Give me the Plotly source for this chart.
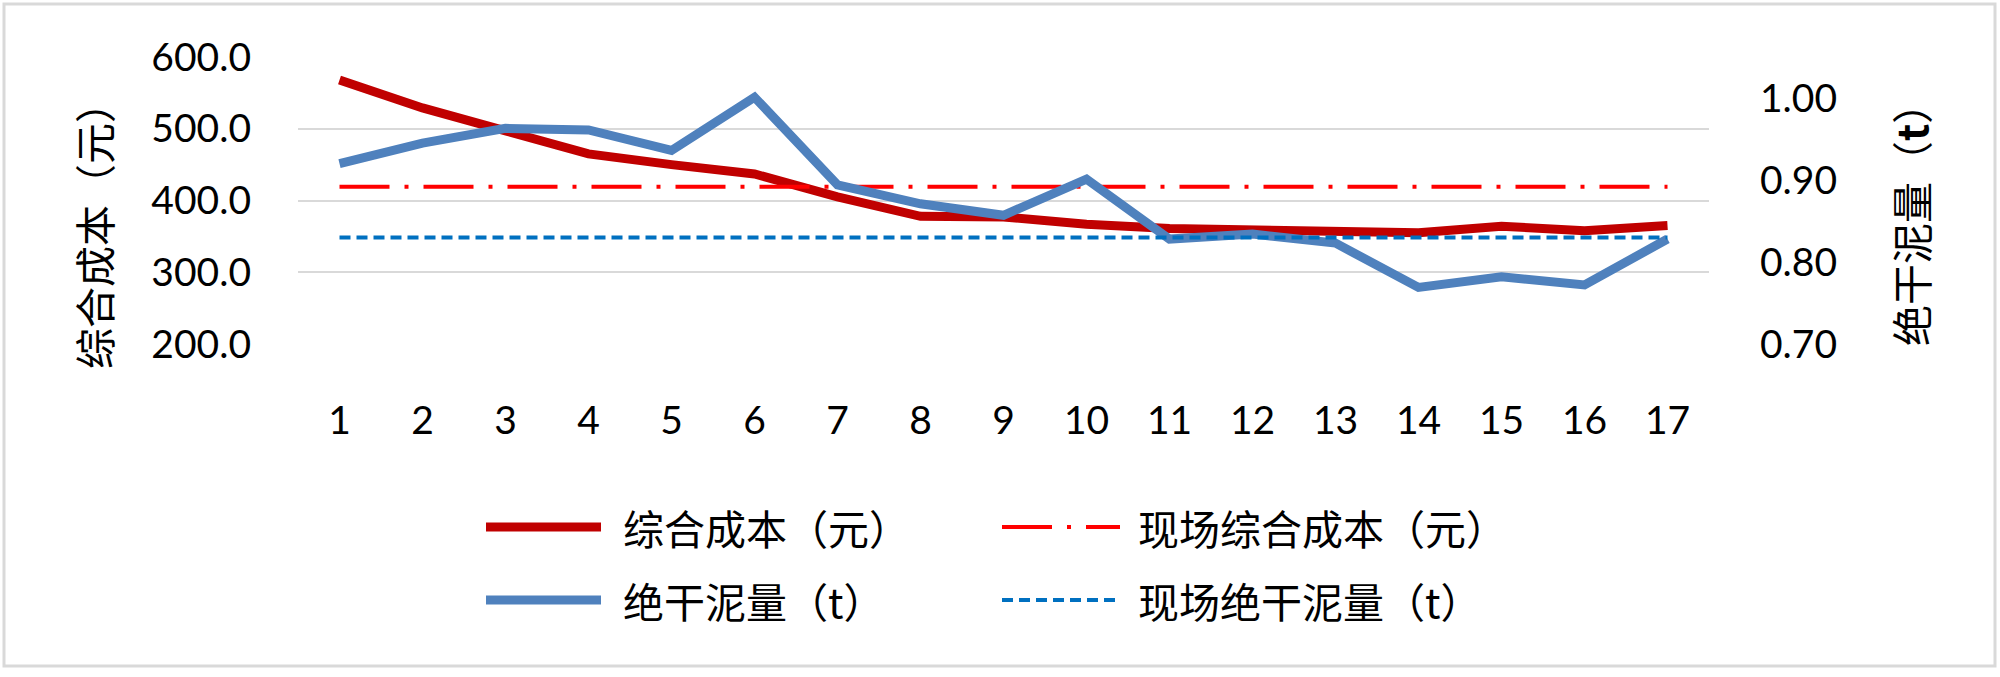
import plotly.graph_objects as go

# Batch numbers 1..17
categories = list(range(1, 18))

# 综合成本 (元) per batch, left axis
cost_yuan = [568, 529, 497, 465, 450, 437, 405, 378, 377, 367,
             361, 360, 359, 355, 364, 358, 365]

# 绝干泥量 (t) per batch, right axis
dry_sludge_t = [0.920, 0.945, 0.963, 0.961, 0.936, 1.001, 0.894, 0.871, 0.857, 0.901,
                0.828, 0.834, 0.823, 0.769, 0.782, 0.772, 0.828]

# On-site reference levels
site_cost_yuan = 419
site_dry_sludge_t = 0.830

names = ["综合成本（元）", "现场综合成本（元）", "绝干泥量（t）", "现场绝干泥量（t）"]

left_ticks = [200, 300, 400, 500, 600]
right_ticks = [0.70, 0.80, 0.90, 1.00]

W, H = 2000, 677
PL, PR, PT, PB = 298, 291, 57, 333   # plot area margins in px
PW, PH = W - PL - PR, H - PT - PB


def px_x(x):
    return (x - PL) / PW


def px_y(y):
    return (H - PB - y) / PH


RED = "#C00000"
RED_DASH = "#FF0000"
BLUE = "#4F81BD"
BLUE_DASH = "#0070C0"
CJK = "Noto Sans CJK SC"
NUM = "Lato"
CJK_SIZE = 41
NUM_SIZE = 39

styles = [
    dict(color=RED, width=9),
    dict(color=RED_DASH, width=4, dash="50px,15px,4px,15px"),
    dict(color=BLUE, width=9),
    dict(color=BLUE_DASH, width=4, dash="11px,6px"),
]

fig = go.Figure()
fig.add_trace(go.Scatter(x=categories, y=cost_yuan, mode="lines",
                         name=names[0], line=styles[0], yaxis="y"))
fig.add_trace(go.Scatter(x=[categories[0], categories[-1]],
                         y=[site_cost_yuan, site_cost_yuan], mode="lines",
                         name=names[1], line=styles[1], yaxis="y"))
fig.add_trace(go.Scatter(x=categories, y=dry_sludge_t, mode="lines",
                         name=names[2], line=styles[2], yaxis="y2"))
fig.add_trace(go.Scatter(x=[categories[0], categories[-1]],
                         y=[site_dry_sludge_t, site_dry_sludge_t], mode="lines",
                         name=names[3], line=styles[3], yaxis="y2"))

shapes = []
annotations = []

# Outer chart frame
shapes.append(dict(type="rect", xref="paper", yref="paper",
                   x0=px_x(4), x1=px_x(1995), y0=px_y(666), y1=px_y(4),
                   line=dict(color="#D9D9D9", width=3), fillcolor="rgba(0,0,0,0)",
                   layer="below"))

# Legend drawn as sample lines with labels, two rows by two columns
legend_rows = [527, 600]
legend_cols = [(486, 601, 621), (1002, 1120, 1136)]
for i, name in enumerate(names):
    row, col = i // 2, i % 2
    x0, x1, xt = legend_cols[col]
    y = legend_rows[row]
    st = styles[i]
    line = dict(color=st["color"], width=st["width"])
    if "dash" in st:
        line["dash"] = st["dash"]
    shapes.append(dict(type="line", xref="paper", yref="paper",
                       x0=px_x(x0), x1=px_x(x1), y0=px_y(y), y1=px_y(y),
                       line=line))
    annotations.append(dict(xref="paper", yref="paper", x=px_x(xt), y=px_y(y),
                            text=name, showarrow=False, xanchor="left",
                            yanchor="middle",
                            font=dict(family=CJK, size=CJK_SIZE, color="#000000")))

# Axis titles
annotations.append(dict(xref="paper", yref="paper", x=px_x(93), y=px_y(226),
                        text="综合成本（元）", textangle=-90, showarrow=False,
                        xanchor="center", yanchor="middle",
                        font=dict(family=CJK, size=CJK_SIZE, color="#000000")))
annotations.append(dict(xref="paper", yref="paper", x=px_x(1910), y=px_y(214),
                        text="绝干泥量（<b>t</b>）", textangle=-90, showarrow=False,
                        xanchor="center", yanchor="middle",
                        font=dict(family=CJK, size=CJK_SIZE, color="#000000")))

fig.update_layout(
    width=W, height=H,
    margin=dict(l=PL, r=PR, t=PT, b=PB, pad=0),
    paper_bgcolor="#FFFFFF", plot_bgcolor="#FFFFFF",
    showlegend=False,
    shapes=shapes,
    annotations=annotations,
    xaxis=dict(
        range=[0.5, 17.5], tickmode="array", tickvals=categories,
        ticktext=[str(c) for c in categories],
        showgrid=False, zeroline=False, showline=False, ticks="",
        ticklabelstandoff=50,
        tickfont=dict(family=NUM, size=NUM_SIZE, color="#000000"),
    ),
    yaxis=dict(
        range=[200, 600], tickmode="array", tickvals=left_ticks,
        ticktext=[f"{v:.1f}" for v in left_ticks],
        showgrid=True, gridcolor="#D9D9D9", gridwidth=2,
        zeroline=False, showline=False, ticks="",
        ticklabelstandoff=46,
        tickfont=dict(family=NUM, size=NUM_SIZE, color="#000000"),
    ),
    yaxis2=dict(
        range=[0.70, 1.05], overlaying="y", side="right",
        tickmode="array", tickvals=right_ticks,
        ticktext=[f"{v:.2f}" for v in right_ticks],
        showgrid=False, zeroline=False, showline=False, ticks="",
        ticklabelstandoff=50,
        tickfont=dict(family=NUM, size=NUM_SIZE, color="#000000"),
    ),
)

fig.write_html("out.html")
